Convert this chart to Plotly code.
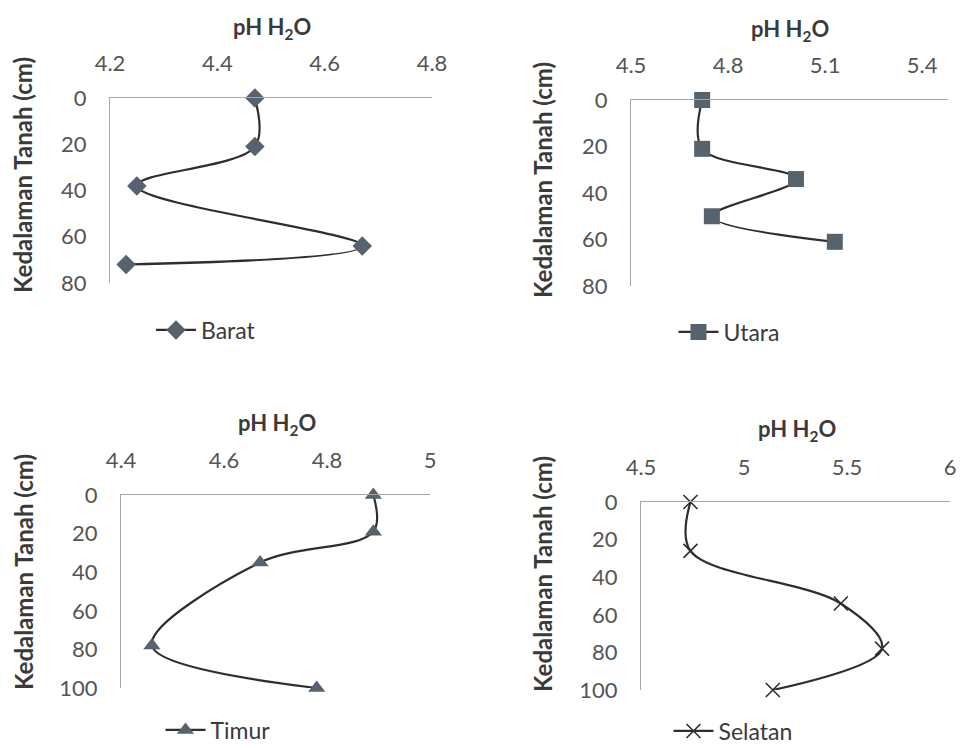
import plotly.graph_objects as go

# ---- data ----
barat_ph = [4.47, 4.47, 4.25, 4.67, 4.23]
barat_depth = [0, 21, 38, 64, 72]

utara_ph = [4.72, 4.72, 5.01, 4.75, 5.13]
utara_depth = [0, 21, 34, 50, 61]

timur_ph = [4.89, 4.89, 4.67, 4.46, 4.78]
timur_depth = [0, 19, 35, 78, 100]

selatan_ph = [4.74, 4.74, 5.47, 5.67, 5.14]
selatan_depth = [0, 26, 54, 78, 100]

names = ["Barat", "Utara", "Timur", "Selatan"]
x_ticks = [[4.2, 4.4, 4.6, 4.8], [4.5, 4.8, 5.1, 5.4], [4.4, 4.6, 4.8, 5], [4.5, 5, 5.5, 6]]
x_tick_text = [["4.2", "4.4", "4.6", "4.8"], ["4.5", "4.8", "5.1", "5.4"],
               ["4.4", "4.6", "4.8", "5"], ["4.5", "5", "5.5", "6"]]
y_ticks = [[0, 20, 40, 60, 80], [0, 20, 40, 60, 80],
           [0, 20, 40, 60, 80, 100], [0, 20, 40, 60, 80, 100]]
x_ranges = [[4.2, 4.8], [4.5, 5.48], [4.4, 5.0], [4.5, 6.0]]
y_max = [80, 80, 100, 100]

W, H = 961, 748
# plot areas in pixels: (left, right, top, bottom)
areas = [(110, 432, 98, 283), (631, 948, 100, 286), (121, 430, 495, 688), (641, 950, 502, 690)]
legend_pos = [(206, 330), (729, 332), (218, 730), (733, 731)]
ytitle_pos = [(23, 175), (543, 180), (23, 572), (542, 574)]
xtitle_pos = [(272, 28), (790, 30), (277, 424), (797, 430)]

series = [(barat_ph, barat_depth), (utara_ph, utara_depth), (timur_ph, timur_depth), (selatan_ph, selatan_depth)]
symbols = ["diamond", "square", "triangle-up", "x-thin"]
sizes = [15, 16, 15, 14]

FONT = "Lato, Open Sans, sans-serif"
marker_col = "#56636e"
line_col = "#2e2e2e"
axis_col = "#a6a6a6"
tick_col = "#555555"
title_col = "#3a3a3a"

fig = go.Figure()
layout = dict(width=W, height=H, margin=dict(l=0, r=0, t=0, b=0, autoexpand=False),
              paper_bgcolor="white", plot_bgcolor="white", showlegend=True,
              font=dict(family=FONT, color=tick_col))
annotations = []

for i in range(4):
    xs, ys = series[i]
    l, r, t, b = areas[i]
    ax = "" if i == 0 else str(i + 1)
    if symbols[i] == "x-thin":
        marker = dict(symbol="x-thin", size=sizes[i], line=dict(color=line_col, width=1.6), color=line_col)
    else:
        marker = dict(symbol=symbols[i], size=sizes[i], color=marker_col, line=dict(width=0))
    lg = "legend" if i == 0 else "legend" + str(i + 1)
    fig.add_trace(go.Scatter(
        x=xs, y=ys, mode="lines+markers", name=names[i],
        line=dict(color=line_col, width=2.2, shape="spline", smoothing=1.0),
        marker=marker, xaxis="x" + ax, yaxis="y" + ax, legend=lg, cliponaxis=False))

    layout["xaxis" + ax] = dict(
        domain=[l / W, r / W], anchor="y" + ax, side="top", range=x_ranges[i],
        tickvals=x_ticks[i], ticktext=x_tick_text[i], showgrid=False, zeroline=False,
        showline=True, linecolor=axis_col, linewidth=1, ticks="", automargin=False,
        ticklabelstandoff=17, tickfont=dict(size=22, color=tick_col, family=FONT))
    layout["yaxis" + ax] = dict(
        domain=[1 - b / H, 1 - t / H], anchor="x" + ax, range=[y_max[i], 0],
        tickvals=y_ticks[i], showgrid=False, zeroline=False, automargin=False,
        showline=True, linecolor=axis_col, linewidth=1, ticks="",
        ticklabelstandoff=18, tickfont=dict(size=22, color=tick_col, family=FONT))
    lx, ly = legend_pos[i]
    layout[lg] = dict(x=lx / W, y=1 - ly / H, xanchor="center", yanchor="middle",
                      xref="container", yref="container",
                      font=dict(size=23, color=title_col, family=FONT),
                      bgcolor="rgba(0,0,0,0)", itemwidth=40)
    tx, ty = ytitle_pos[i]
    annotations.append(dict(text="<b>Kedalaman Tanah (cm)</b>", x=tx / W, y=1 - ty / H,
                            xref="paper", yref="paper", showarrow=False, textangle=-90,
                            xanchor="center", yanchor="middle",
                            font=dict(size=24, color=title_col, family=FONT)))
    px, py = xtitle_pos[i]
    annotations.append(dict(text="<b>pH H<sub>2</sub>O</b>", x=px / W, y=1 - py / H,
                            xref="paper", yref="paper", showarrow=False,
                            xanchor="center", yanchor="middle",
                            font=dict(size=22, color=title_col, family=FONT)))

layout["annotations"] = annotations
fig.update_layout(**layout)
fig.write_html("out.html")
